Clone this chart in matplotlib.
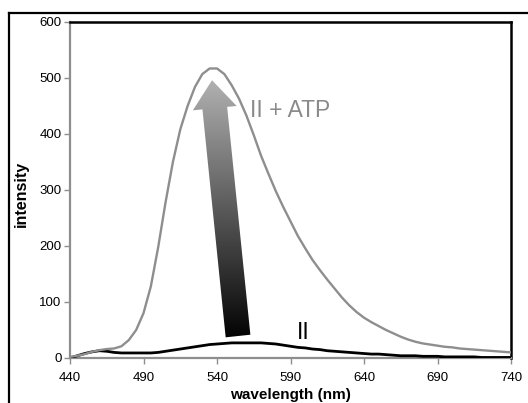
import numpy as np
import matplotlib
matplotlib.use("Agg")
import matplotlib.pyplot as plt
from matplotlib.patches import Polygon
from matplotlib.lines import Line2D

plt.rcParams['font.family'] = ['Liberation Sans', 'DejaVu Sans']

# wavelength grid (nm) and the two emission spectra
wavelength = np.arange(440, 745, 5)
atp = [2, 4, 7, 11, 14, 16, 17, 21, 32, 50,
       80, 128, 198, 278, 350, 408, 450, 484, 507, 517,
       517, 507, 487, 463, 433, 398, 361, 329, 298, 270,
       244, 218, 196, 175, 157, 140, 124, 108, 94, 82,
       72, 64, 57, 50, 44, 38, 33, 29, 26, 24,
       22, 20, 19, 17, 16, 15, 14, 13, 12, 11, 10]
free = [0, 4, 8, 11, 13, 12, 10, 9, 9, 9,
        9, 9, 10, 12, 14, 16, 18, 20, 22, 24,
        25, 26, 27, 27, 27, 27, 27, 26, 25, 23,
        21, 19, 18, 16, 15, 13, 12, 11, 10, 9,
        8, 7, 7, 6, 5, 4, 4, 4, 3, 3,
        3, 2, 2, 2, 2, 2, 1, 1, 1, 1, 1]

xticks = [440, 490, 540, 590, 640, 690, 740]
yticks = [0, 100, 200, 300, 400, 500, 600]

# big gradient arrow (data coords)
arrow_xy = [(536.6, 496), (553.4, 450), (546.9, 448.5), (562.7, 41.6),
            (545.9, 36.9), (530.1, 443.9), (523.6, 442.3)]

fig = plt.figure(figsize=(5.28, 4.03), dpi=100)
ax = fig.add_axes([70 / 528, 1 - 358 / 403, 441 / 528, 336 / 403])

ax.plot(wavelength, free, color='black', lw=2.0, zorder=3, solid_capstyle='butt')
ax.plot(wavelength, atp, color='#8e8e8e', lw=1.7, zorder=4)

# arrow with a black -> light grey gradient
poly = Polygon(arrow_xy, closed=True, facecolor='none', edgecolor='none',
               transform=ax.transData)
ax.add_patch(poly)
grad = np.linspace(0, 1, 256).reshape(-1, 1)
img = ax.imshow(grad, cmap='gray', vmin=-0.02, vmax=1.45, origin='lower',
                extent=[520, 566, 36, 497], aspect='auto', zorder=2,
                interpolation='bilinear')
img.set_clip_path(poly)

ax.text(562.4, 430, 'II + ATP', color='#8a8a8a', fontsize=16.5,
        ha='left', va='baseline')
ax.text(594.4, 34, 'II', color='black', fontsize=16.5, ha='left', va='baseline')

ax.set_xlim(440, 740)
ax.set_ylim(0, 600)
ax.set_xticks(xticks)
ax.set_yticks(yticks)
ax.tick_params(axis='both', direction='out', length=4, width=1,
               color='#8e8e8e', labelsize=9.5, labelcolor='black')
ax.tick_params(axis='y', pad=2)
ax.tick_params(axis='x', pad=6)

for side in ['left', 'bottom']:
    ax.spines[side].set_color('#8e8e8e')
    ax.spines[side].set_linewidth(1.6)
for side in ['top', 'right']:
    ax.spines[side].set_color('black')
    ax.spines[side].set_linewidth(1.8)

ax.set_xlabel('wavelength (nm)', fontsize=11, fontweight='bold')
ax.set_ylabel('intensity', fontsize=11.5, fontweight='bold')
ax.xaxis.set_label_coords(0.499, -0.09)
ax.yaxis.set_label_coords(-0.093, 0.488)

# outer frame, right and bottom edges fall outside the picture
fig.add_artist(Line2D([8.5 / 528, 8.5 / 528], [0, 1 - 12.5 / 403],
                      color='black', lw=1.6, transform=fig.transFigure))
fig.add_artist(Line2D([8.5 / 528, 1], [1 - 12.5 / 403, 1 - 12.5 / 403],
                      color='black', lw=1.6, transform=fig.transFigure))

fig.savefig('out.png', dpi=100)
